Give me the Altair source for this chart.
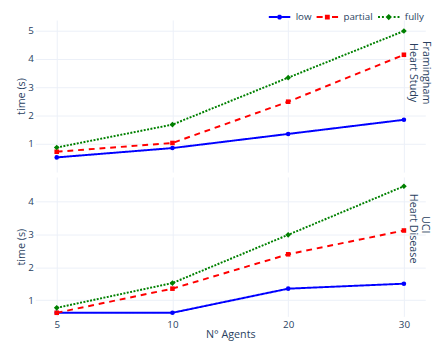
import altair as alt
import pandas as pd

agents = [5, 10, 20, 30]
series = ["low", "partial", "fully"]
colors = ["#0000ff", "#ff0000", "#008000"]

fr_low = [0.52, 0.85, 1.35, 1.85]
fr_partial = [0.72, 1.03, 2.49, 4.15]
fr_fully = [0.87, 1.68, 3.34, 4.99]

uci_low = [0.62, 0.62, 1.35, 1.50]
uci_partial = [0.62, 1.35, 2.39, 3.11]
uci_fully = [0.77, 1.52, 2.98, 4.45]

top_label_lines = ["Framingham", "Heart Study"]
bottom_label_lines = ["UCI", "Heart Disease"]
top_ticks = [1, 2, 3, 4, 5]
bottom_ticks = [1, 2, 3, 4]

FONT = "Open Sans"
TXT = "#2a3f5f"
GRID = "#ebf0f8"


def long_df(low, partial, fully):
    rows = []
    for s, vals in zip(series, [low, partial, fully]):
        for a, v in zip(agents, vals):
            rows.append({"agents": a, "series": s, "time": v})
    return pd.DataFrame(rows)


def rect(x0, x1, h=0.33):
    return f"M{x0},{-h}L{x1},{-h}L{x1},{h}L{x0},{h}Z"


def octagon(r):
    import math
    pts = [(r * math.cos(math.pi / 8 + k * math.pi / 4), r * math.sin(math.pi / 8 + k * math.pi / 4)) for k in range(8)]
    return "M" + "L".join(f"{x:.3f},{y:.3f}" for x, y in pts) + "Z"


legend_paths = [
    rect(-3.67, -0.85) + rect(0.85, 3.67) + octagon(0.9),
    rect(-3.67, -1.6) + rect(1.6, 3.67) + "M-0.83,-0.83L0.83,-0.83L0.83,0.83L-0.83,0.83Z",
    rect(-3.67, -3.0) + rect(-2.33, -1.67) + rect(1.67, 2.33) + rect(3.0, 3.67) + "M0,-1.08L1.08,0L0,1.08L-1.08,0Z",
]

dashes = [[1, 0], [6, 5], [2, 1.5]]
marker_shapes = ["circle", "square", "diamond"]
marker_sizes = [22, 22, 34]


def panel(df, domain, ticks, lines_text, line_pos, show_x, height, with_legend):
    base = alt.Chart(df)
    if show_x:
        xaxis = alt.Axis(title="N° Agents", labelAngle=0, labelPadding=3, titlePadding=0)
    else:
        xaxis = alt.Axis(title=None, labels=False)
    x = alt.X("agents:O", sort=agents, scale=alt.Scale(type="point", padding=0.185), axis=xaxis)
    y = alt.Y("time:Q", scale=alt.Scale(domain=domain, nice=False, zero=False),
              axis=alt.Axis(values=ticks, title="time (s)", labelPadding=2, titlePadding=1))
    layers = []
    for s, c, d in zip(series, colors, dashes):
        layers.append(
            base.transform_filter(alt.datum.series == s)
            .mark_line(strokeWidth=2, color=c, strokeDash=d)
            .encode(x=x, y=y)
        )
    for s, c, sh, sz in zip(series, colors, marker_shapes, marker_sizes):
        layers.append(
            base.transform_filter(alt.datum.series == s)
            .mark_point(shape=sh, filled=True, size=sz, opacity=1, color=c)
            .encode(x=x, y=y)
        )
    for t, (px, py) in zip(lines_text, line_pos):
        layers.append(
            alt.Chart(pd.DataFrame({"label": [t]})).mark_text(
                angle=90, align="center", baseline="middle",
                font=FONT, fontSize=11, color=TXT,
            ).encode(x=alt.value(px), y=alt.value(py), text="label:N")
        )
    if with_legend:
        leg = dict(
            title=None, orient="none", legendX=245.5, legendY=-8, direction="horizontal",
            columns=3, symbolSize=36, labelOffset=11.5, columnPadding=4,
            labelFontSize=10, labelFont=FONT, labelColor=TXT, symbolStrokeWidth=0,
        )
        legend_layer = base.transform_filter("false").mark_point(filled=True, opacity=1).encode(
            x=x, y=y,
            color=alt.Color("series:N", scale=alt.Scale(domain=series, range=colors),
                            legend=alt.Legend(**leg)),
            shape=alt.Shape("series:N", scale=alt.Scale(domain=series, range=legend_paths),
                            legend=alt.Legend(**leg)),
        )
        layers.append(legend_layer)
    return alt.layer(*layers).properties(width=400, height=height)


top = panel(long_df(fr_low, fr_partial, fr_fully), [0.0, 5.38], top_ticks,
            top_label_lines, [(401, 54), (387, 54)], False, 156, True)
bottom = panel(long_df(uci_low, uci_partial, uci_fully), [0.51, 4.73], bottom_ticks,
               bottom_label_lines, [(400, 49), (387, 53)], True, 143, False)

chart = (
    alt.vconcat(top, bottom, spacing=5)
    .properties(padding={"left": 8, "top": 0, "right": 6, "bottom": 0}, background="white")
    .configure_view(stroke=None)
    .configure_axis(
        grid=True, gridColor=GRID, gridWidth=1, domain=False, ticks=False,
        labelFont=FONT, labelFontSize=10, labelColor=TXT,
        titleFont=FONT, titleFontSize=11, titleFontWeight="normal", titleColor=TXT,
    )
)

chart.save("out.html", embed_options={"renderer": "svg", "actions": False})
